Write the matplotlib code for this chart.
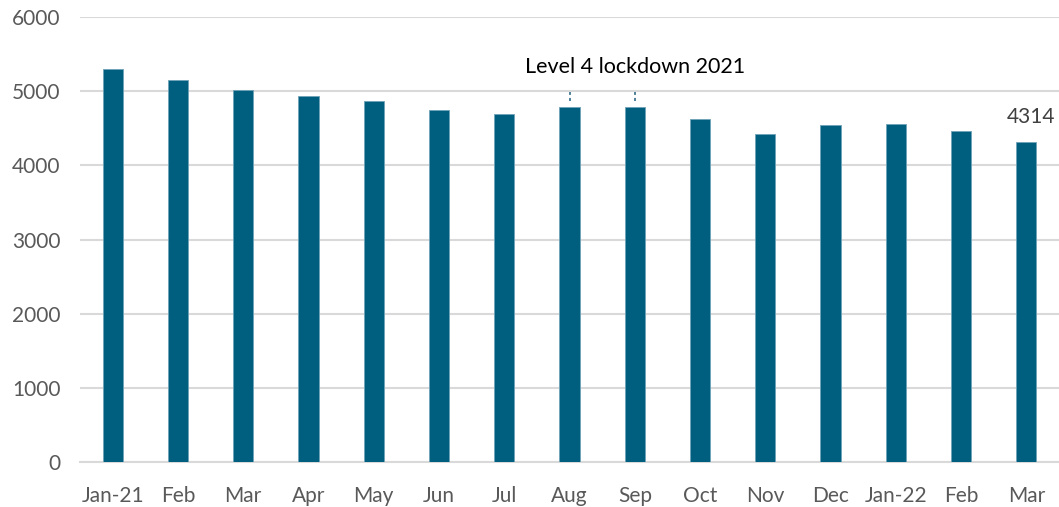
import matplotlib.pyplot as plt
import numpy as np

months = ['Jan-21', 'Feb', 'Mar', 'Apr', 'May', 'Jun', 'Jul', 'Aug',
          'Sep', 'Oct', 'Nov', 'Dec', 'Jan-22', 'Feb', 'Mar']
counts = [5305, 5150, 5014, 4933, 4870, 4745, 4691, 4793,
          4780, 4628, 4426, 4547, 4561, 4467, 4314]
lockdown_label = 'Level 4 lockdown 2021'

plt.rcParams['font.family'] = ['Lato', 'DejaVu Sans']

bar_color = '#005F7E'
grid_color = '#D9D9D9'
text_color = '#595959'

fig = plt.figure(figsize=(10.59, 5.07), dpi=100)
ax = fig.add_axes([80 / 1059, 45 / 507, 979 / 1059, 445 / 507])

x = np.arange(len(months))
ax.bar(x, counts, width=0.31, color=bar_color, edgecolor='#6FA3B8',
       linewidth=0.6, zorder=3)

ax.set_xlim(-0.5, len(months) - 0.5)
ax.set_ylim(0, 6000)
ax.set_yticks(np.arange(0, 6001, 1000))
ax.set_xticks(x)
ax.set_xticklabels(months)
ax.grid(axis='y', color=grid_color, linewidth=1.5, zorder=0)
ax.tick_params(length=0, labelsize=15, labelcolor=text_color)
ax.tick_params(axis='x', pad=17)
ax.tick_params(axis='y', pad=14)
for side in ['top', 'right', 'left']:
    ax.spines[side].set_visible(False)
ax.spines['bottom'].set_color(grid_color)
ax.spines['bottom'].set_linewidth(1.5)

# bracket ends above the lockdown months
lock_x = [7, 8]
ax.vlines(lock_x, 4870, 4990, colors='#1F5F7E', linestyles=(0, (2, 2)),
          linewidth=1.1, zorder=4)
ax.text(8.0, 5330, lockdown_label, ha='center', va='center',
        fontsize=15.5, color='black')

# label the latest month
ax.annotate(str(counts[-1]), (x[-1], counts[-1]), xytext=(3, 18),
            textcoords='offset points', ha='center', va='center',
            fontsize=15, color='#404040')

fig.savefig('out.png', dpi=100)
